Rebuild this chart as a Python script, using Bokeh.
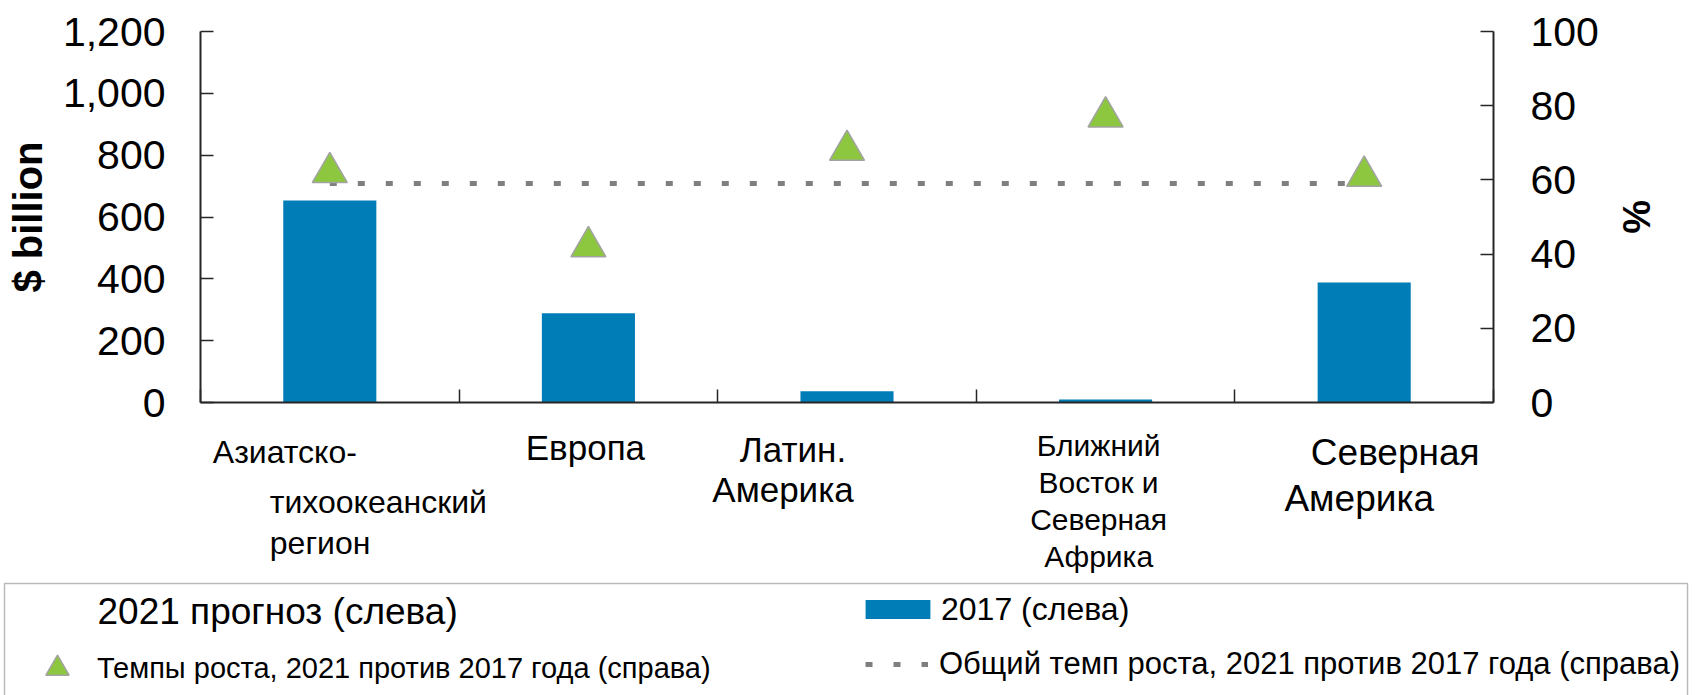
from bokeh.plotting import figure
from bokeh.layouts import column
from bokeh.models import (Range1d, LinearAxis, FixedTicker, NumeralTickFormatter,
                          CustomJSTickFormatter, Label, Legend, LegendItem, BoxAnnotation)
from bokeh.embed import file_html
from bokeh.resources import INLINE

# ---------------- data ----------------
categories = ["Азиатско-\nтихоокеанский\nрегион", "Европа", "Латин.\nАмерика",
              "Ближний\nВосток и\nСеверная\nАфрика", "Северная\nАмерика"]
value_2017 = [653, 289, 36, 10, 388]          # $ billion (left axis)
growth_pct = [62, 42, 68, 77, 61]             # % (right axis)
overall_growth_pct = [59, 59, 59, 59, 59]     # % (right axis)
left_ticks = [0, 200, 400, 600, 800, 1000, 1200]
right_ticks = [0, 20, 40, 60, 80, 100]
left_title = "$ billion"
right_title = "%"
legend_2021 = "2021 прогноз (слева)"
legend_2017 = "2017 (слева)"
legend_growth = "Темпы роста, 2021 против 2017 года (справа)"
legend_overall = "Общий темп роста, 2021 против 2017 года (справа)"

# ---------------- layout / style ----------------
FONT = "Liberation Sans"
BAR_COLOR = "#007cb7"
TRI_FILL = "#8dc63f"
TRI_LINE = "#a3a3a3"
DOT_COLOR = "#7f7f7f"
AXIS_COLOR = "#262626"

W = 1696
H_TOTAL = 695
H_CHART = 427
H_LOW = H_TOTAL - H_CHART
FRAME_L, FRAME_R, FRAME_T, FRAME_B = 200, 1493, 31, 402
BASELINE_FIX = 0.45   # em; Bokeh's alphabetic anchor sits this far above the drawn baseline


def up(page_y):
    """page y (from top) -> px above the bottom of the lower panel"""
    return H_TOTAL - page_y


def text_y(page_baseline, fs):
    return up(page_baseline) + BASELINE_FIX * fs


# per-category label placement: font size, align, per-line (x offset px, baseline page y)
label_layout = [
    (32, "left",   [(-117, 466), (-60, 516), (-60, 557)]),
    (35, "center", [(-3, 463)]),
    (35, "center", [(-54, 465), (-64, 505)]),
    (30, "center", [(-7, 458), (-7, 495), (-7, 532), (-7, 569)]),
    (37, "center", [(31, 469), (-5, 515)]),
]

n = len(categories)
xs = [i + 0.5 for i in range(n)]

# ================= chart =================
p = figure(width=W, height=H_CHART,
           x_range=Range1d(0, n), y_range=Range1d(left_ticks[0], left_ticks[-1]),
           output_backend="svg", toolbar_location=None,
           min_border_left=FRAME_L, min_border_right=W - FRAME_R,
           min_border_top=FRAME_T, min_border_bottom=H_CHART - FRAME_B)
p.outline_line_color = None
p.grid.visible = False
p.background_fill_color = "white"
p.border_fill_color = "white"

p.extra_y_ranges = {"pct": Range1d(right_ticks[0], right_ticks[-1])}

ya = p.yaxis[0]
ya.ticker = FixedTicker(ticks=left_ticks)
ya.formatter = NumeralTickFormatter(format="0,0")
ya.axis_label = left_title
ya.axis_label_standoff = 10

xa = p.xaxis[0]
xa.ticker = FixedTicker(ticks=list(range(n + 1)))
xa.formatter = CustomJSTickFormatter(code="return ''")

ra = LinearAxis(y_range_name="pct", ticker=FixedTicker(ticks=right_ticks))
ra.axis_label = right_title
ra.axis_label_standoff = 13
p.add_layout(ra, "right")

for ax, standoff in ((ya, 35), (ra, 37), (xa, 0)):
    ax.axis_line_color = AXIS_COLOR
    ax.axis_line_width = 2
    ax.major_tick_line_color = AXIS_COLOR
    ax.major_tick_line_width = 1.5
    ax.major_tick_in = 13
    ax.major_tick_out = 0
    ax.minor_tick_in = 0
    ax.minor_tick_out = 0
    ax.major_label_standoff = standoff
    ax.major_label_text_font = FONT
    ax.major_label_text_font_size = "41px"
    ax.major_label_text_color = "black"
    ax.axis_label_text_font = FONT
    ax.axis_label_text_font_style = "bold"
    ax.axis_label_text_color = "black"
ya.axis_label_text_font_size = "40px"
ra.axis_label_text_font_size = "38px"

p.vbar(x=xs, top=value_2017, width=0.36, fill_color=BAR_COLOR, line_color=None)
p.line(x=xs, y=overall_growth_pct, y_range_name="pct", line_color=DOT_COLOR,
       line_width=5, line_dash="7 21", line_cap="butt")
p.scatter(x=xs, y=growth_pct, y_range_name="pct", marker="triangle", size=35,
          fill_color=TRI_FILL, line_color=TRI_LINE, line_width=1.5)

# ================= category labels + legend =================
px_per_unit = (FRAME_R - FRAME_L) / n
q = figure(width=W, height=H_LOW,
           x_range=Range1d(-FRAME_L / px_per_unit, (W - FRAME_L) / px_per_unit),
           y_range=Range1d(0, H_LOW),
           output_backend="svg", toolbar_location=None,
           x_axis_location=None, y_axis_location=None,
           min_border=0, min_border_left=0, min_border_right=0,
           min_border_top=0, min_border_bottom=0)
q.outline_line_color = None
q.grid.visible = False
q.background_fill_color = "white"
q.border_fill_color = "white"

for fig in (p, q):
    if "frame_align" in fig.properties():
        fig.frame_align = False

for cx, cat, (fs, align, offs) in zip(xs, categories, label_layout):
    for line_txt, (dx, base_y) in zip(cat.split("\n"), offs):
        q.add_layout(Label(x=cx, y=text_y(base_y, fs), x_units="data", y_units="screen",
                           x_offset=dx, text=line_txt, text_align=align,
                           text_baseline="alphabetic", text_font=FONT,
                           text_font_size=f"{fs}px", text_color="black"))

q.add_layout(BoxAnnotation(left=4, right=1687, top=up(583), bottom=-20,
                           left_units="screen", right_units="screen",
                           top_units="screen", bottom_units="screen",
                           fill_alpha=0, fill_color=None,
                           line_color="#1a1a1a", line_width=1.5))

q.add_layout(Label(x=97, y=text_y(628, 37), x_units="screen", y_units="screen",
                   text=legend_2021, text_align="left", text_baseline="alphabetic",
                   text_font=FONT, text_font_size="37px", text_color="black"))

# legend keys: hidden copies of the chart's series, styled identically
k_bar = q.vbar(x=xs, top=value_2017, width=0.36, fill_color=BAR_COLOR, line_color=None,
               visible=False)
k_tri = q.scatter(x=xs, y=growth_pct, marker="triangle", size=35,
                  fill_color=TRI_FILL, line_color=TRI_LINE, line_width=1.5, visible=False)
k_line = q.line(x=xs, y=overall_growth_pct, line_color=DOT_COLOR, line_width=5,
                line_dash="7 21", line_cap="butt", visible=False)


def one_legend(renderer, text, loc, gw, gh, lh, standoff, fs):
    return Legend(items=[LegendItem(label=text, renderers=[renderer])],
                  location=loc, orientation="vertical", click_policy="none",
                  glyph_width=gw, glyph_height=gh, label_height=lh,
                  label_standoff=standoff, padding=0, margin=0, spacing=0,
                  border_line_color=None, background_fill_alpha=0,
                  label_text_font=FONT, label_text_font_size=f"{fs}px",
                  label_text_color="black")


q.add_layout(one_legend(k_tri, legend_growth, (28, up(697)), 58, 58, 58, 11, 29))
q.add_layout(one_legend(k_bar, legend_2017, (857, up(627.5)), 81, 24, 36, 3, 32))
q.add_layout(one_legend(k_line, legend_overall, (865, up(681.5)), 63, 36, 36, 11, 31))

layout = column(p, q, spacing=0)
open("out.html", "w").write(file_html(layout, INLINE))
